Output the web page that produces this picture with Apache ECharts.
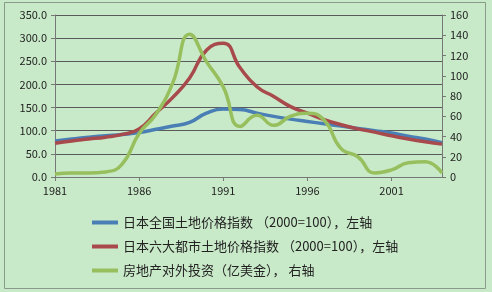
<!DOCTYPE html>
<html><head><meta charset="utf-8">
<script src="https://cdn.jsdelivr.net/npm/echarts@6/dist/echarts.min.js"></script>
<style>html,body{margin:0;padding:0;background:#fff}#c{width:492px;height:292px}</style>
</head><body><div id="c"></div>
<script>
const years = ['1981','1982','1983','1984','1985','1986','1987','1988','1989','1990','1991','1992','1993','1994','1995','1996','1997','1998','1999','2000','2001','2002','2003','2004'];
const nationalIndex = [78,82,86,89,92,96,103,110,118,138,147,146,138,131,125,120,115,110,105,100,95,88,82,74];
const sixCityIndex = [73,78,82,86,92,104,138,172,214,274,289,236,195,174,152,138,124,113,104,97,89,82,76,71];
const overseasInvest = [3,4,4,5,13,43,62,93,141,114,89,50,61,51,60,63,56,28,20,4,7,14,15,4];
const leftTicks = [0,50,100,150,200,250,300,350];
const rightTicks = [0,20,40,60,80,100,120,140,160];
const names = ['日本全国土地价格指数 （2000=100），左轴','日本六大都市土地价格指数 （2000=100），左轴','房地产对外投资（亿美金）， 右轴'];

const chart = echarts.init(document.getElementById('c'));
const font = '"Noto Sans CJK SC", "Noto Sans", sans-serif';
chart.setOption({
  backgroundColor: '#c9eac9',
  animation: false,
  textStyle: {fontFamily: font},
  graphic: [{type:'rect', shape:{x:4.5,y:2.5,width:481,height:286}, style:{fill:'none', stroke:'#8a9a8a', lineWidth:1}}],
  grid: {left:55, right:50, top:15, bottom:115},
  legend: {
    orient:'vertical', left:87, top:211, itemWidth:26, itemHeight:4, itemGap:11, icon:'rect',
    textStyle:{fontSize:13, color:'#222', fontFamily:font},
    data: names
  },
  xAxis: {
    type:'category', data: years, boundaryGap:false,
    axisLine:{lineStyle:{color:'#777'}},
    axisTick:{interval:4, length:4, lineStyle:{color:'#777'}},
    axisLabel:{interval:4, color:'#222', fontSize:11, margin:8}
  },
  yAxis: [{
    type:'value', min:leftTicks[0], max:leftTicks[leftTicks.length-1], interval:50,
    axisLine:{show:true, lineStyle:{color:'#777'}},
    axisTick:{show:true, length:4, lineStyle:{color:'#777'}},
    axisLabel:{color:'#222', fontSize:11, margin:8, formatter: v => v.toFixed(1)},
    splitLine:{lineStyle:{color:'#5a5a5a', width:1}}
  },{
    type:'value', min:rightTicks[0], max:rightTicks[rightTicks.length-1], interval:20,
    axisLine:{show:true, lineStyle:{color:'#777'}},
    axisTick:{show:true, length:4, lineStyle:{color:'#777'}},
    axisLabel:{color:'#222', fontSize:11, margin:8},
    splitLine:{show:false}
  }],
  series: [
    {name:names[0], type:'line', data:nationalIndex, yAxisIndex:0, smooth:0.5, symbol:'none', lineStyle:{width:3.5, color:'#4a7fb5'}, itemStyle:{color:'#4a7fb5'}},
    {name:names[1], type:'line', data:sixCityIndex, yAxisIndex:0, smooth:0.5, symbol:'none', lineStyle:{width:3.5, color:'#a8494b'}, itemStyle:{color:'#a8494b'}},
    {name:names[2], type:'line', data:overseasInvest, yAxisIndex:1, smooth:0.5, symbol:'none', lineStyle:{width:3.5, color:'#98bf5e'}, itemStyle:{color:'#98bf5e'}}
  ]
});
</script></body></html>
